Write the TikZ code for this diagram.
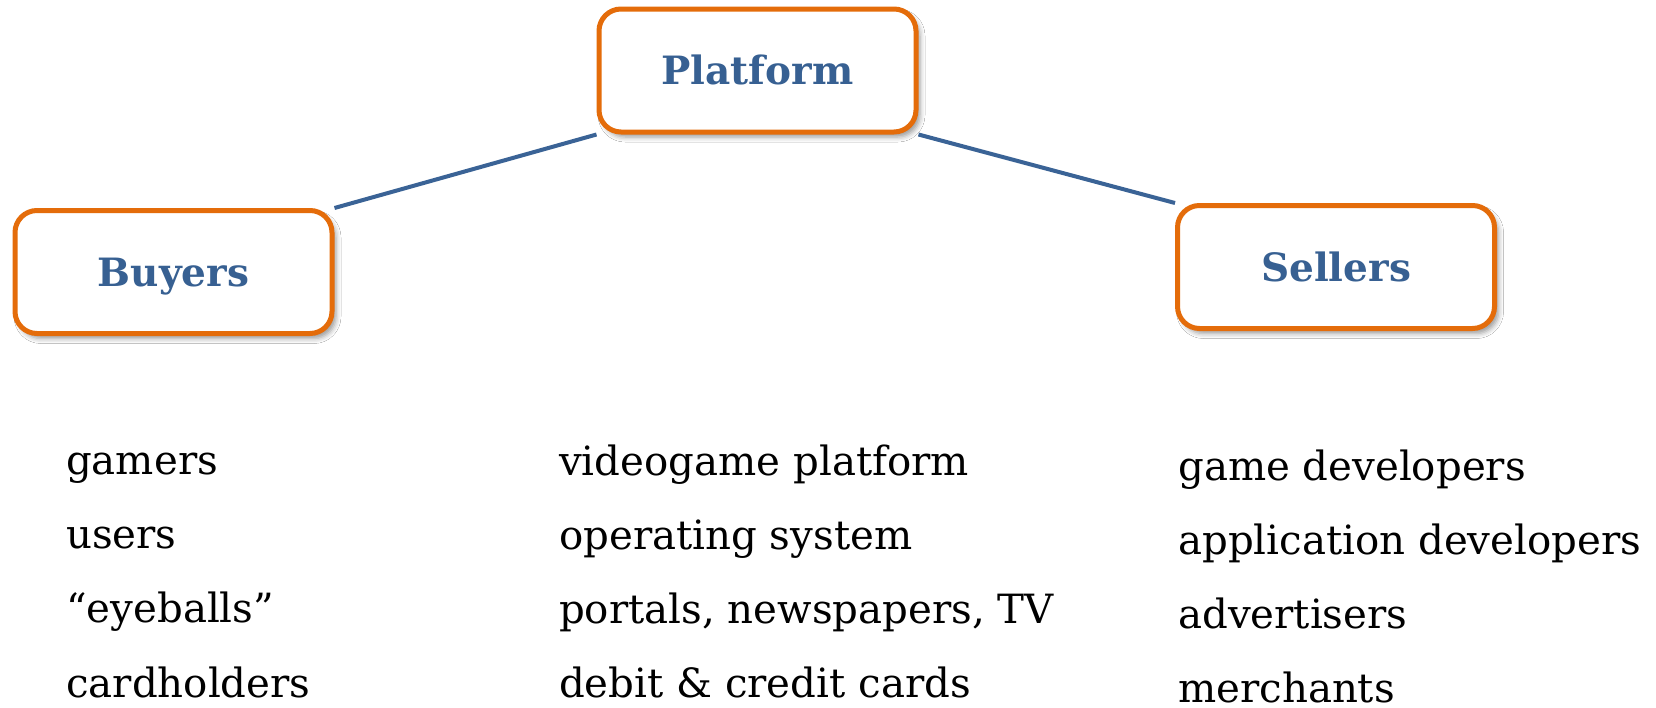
\documentclass[tikz,border=0pt]{standalone}
\usepackage{fontspec}
\setmainfont{DejaVu Serif}
\usetikzlibrary{shadows.blur}
\definecolor{boxorange}{HTML}{E46C0A}
\definecolor{labelblue}{HTML}{376092}
\definecolor{linkblue}{HTML}{3A6396}
\newlength\wApp
\begin{document}
\settowidth\wApp{\fontsize{40pt}{48pt}\selectfont application developers}%
\pgfmathsetmacro\listfs{40*(463pt/\wApp)}%
\begin{tikzpicture}[x=1pt,y=-1pt,
  rolebox/.style={draw=boxorange, line width=5pt, fill=white, rounded corners=22pt,
    minimum width=317pt, minimum height=123pt, inner sep=0pt,
    text=labelblue, font={\fontsize{39pt}{46pt}\selectfont\bfseries},
    text height=28pt, text depth=0pt,
    blur shadow={shadow xshift=4pt, shadow yshift=-5pt, shadow blur radius=5pt, shadow opacity=40}},
  link/.style={draw=linkblue, line width=4pt},
  item/.style={anchor=base west, inner sep=0pt, text=black, font={\fontsize{\listfs pt}{48pt}\selectfont}}]
\path[use as bounding box, fill=white] (0,0) rectangle (1656,707);

\node[rolebox] (platform) at (757.5,70.5) {Platform};
\node[rolebox] (buyers) at (173.5,272) {Buyers};
\node[rolebox] (sellers) at (1336,267) {Sellers};

\draw[link] (buyers.north east) -- (platform.south west);
\draw[link] (platform.south east) -- (sellers.north west);

\node[item] (b1) at (66,474) {gamers};
\node[item] (b2) at (66,548) {users};
\node[item] (b3) at (66,622) {“eyeballs”};
\node[item] (b4) at (66,697) {cardholders};

\node[item] (p1) at (559,475) {videogame platform};
\node[item] (p2) at (559,549) {operating system};
\node[item] (p3) at (559,623) {portals, newspapers, TV};
\node[item] (p4) at (559,697) {debit \& credit cards};

\node[item] (s1) at (1178,480) {game developers};
\node[item] (s2) at (1178,554) {application developers};
\node[item] (s3) at (1178,628) {advertisers};
\node[item] (s4) at (1178,702) {merchants};
\end{tikzpicture}
\end{document}
